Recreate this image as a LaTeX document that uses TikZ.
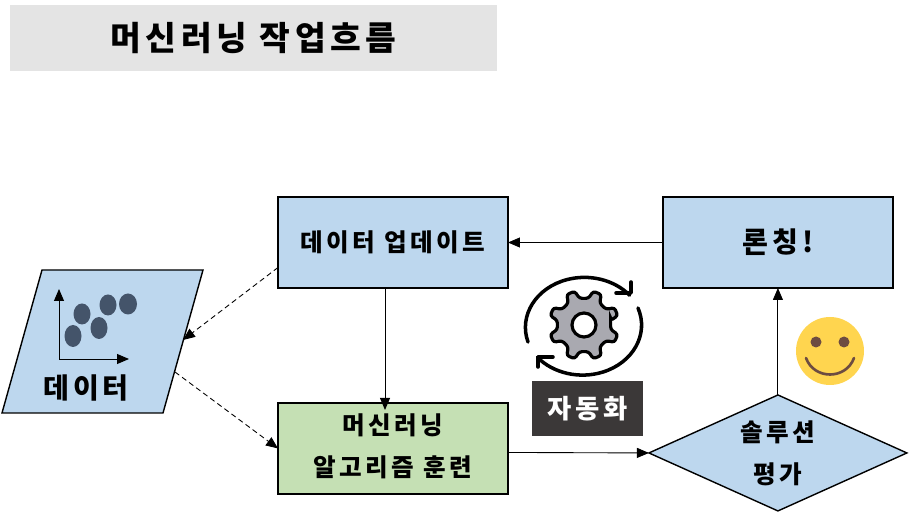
\documentclass[tikz,border=0pt]{standalone}
\usepackage{fontspec}
\usepackage{tikz}
\usetikzlibrary{arrows.meta,positioning,shapes.geometric}
\newfontfamily\krfont{Noto Sans CJK KR}[LetterSpace=14]
\definecolor{boxblue}{HTML}{BDD7EE}
\definecolor{boxgreen}{HTML}{C5E0B4}
\definecolor{titlegray}{HTML}{E4E4E4}
\definecolor{tagdark}{HTML}{3B3838}
\definecolor{dotblue}{HTML}{44546A}
\definecolor{geargray}{HTML}{A9A9B0}
\definecolor{smileface}{HTML}{FFD54F}
\definecolor{smilebrown}{HTML}{6D4C41}

\begin{document}
\begin{tikzpicture}[x=0.02cm, y=0.02cm, every node/.style={font=\krfont\bfseries\fontsize{14}{24}\selectfont}]
\tikzset{stepbox/.style={draw, line width=0.8pt, fill=boxblue, align=center, minimum width=4.6cm, minimum height=1.82cm, inner sep=0pt, outer sep=0pt}}
\tikzset{flow/.style={line width=0.5pt, -{Triangle[length=0.24cm, width=0.2cm]}}}
\tikzset{dashflow/.style={flow, densely dashed}}
\useasboundingbox (0,0) rectangle (910,514);
\fill[white] (0,0) rectangle (910,514);
\node[fill=titlegray, minimum width=9.74cm, minimum height=1.32cm, font=\krfont\bfseries\fontsize{19}{24}\selectfont] (title) at (253.5,476) {머신러닝 작업흐름};
\node[stepbox] (update) at (393,271.5) {데이터 업데이트};
\node[stepbox, right=3.1cm of update, font=\krfont\bfseries\fontsize{16}{24}\selectfont] (launch) {론칭!};
\node[stepbox, below=2.3cm of update, fill=boxgreen] (train) {};
\node[align=center] (traintext) at ([yshift=0.05cm]train.center) {머신러닝\\알고리즘 훈련};
\node[stepbox, diamond, below=2.14cm of launch, minimum width=5.16cm, minimum height=2.32cm] (eval) {};
\node[align=center] (evaltext) at (eval.center) {솔루션\\평가};
% data card
\coordinate (dataa) at (42,244);
\coordinate (datab) at (203,244);
\coordinate (datac) at (163,101);
\coordinate (datad) at (2,101);
\coordinate (datain) at (183,174);
\coordinate (dataout) at (175,142);
\draw[line width=0.8pt, fill=boxblue] (dataa) -- (datab) -- (datac) -- (datad) -- cycle;
\node[font=\krfont\bfseries\fontsize{16}{24}\selectfont] (data) at (86,126) {데이터};
\coordinate (axis) at (59,155);
\coordinate (axisy) at (59,225);
\coordinate (axisx) at (129,155);
\draw[flow] (axis) -- (axisy);
\draw[flow] (axis) -- (axisx);
\fill[dotblue] (73,178) ellipse (8.5 and 11);
\fill[dotblue] (82,200) ellipse (8.5 and 10.5);
\fill[dotblue] (99,186) ellipse (8.5 and 11);
\fill[dotblue] (108,209) ellipse (8.5 and 10.5);
\fill[dotblue] (128,210) ellipse (9 and 10.5);
% connectors
\draw[flow] (launch) -- (update);
\draw[flow] ([xshift=-0.16cm]update.south) -- ([xshift=-0.16cm, yshift=-0.14cm]train.north);
\draw[flow] ([yshift=-0.08cm]train.east) -- (eval.west);
\draw[flow] (eval.north) -- (launch.south);
\draw[dashflow] ([yshift=-0.5cm]update.west) -- (datain);
\draw[dashflow] (dataout) -- (train.west);
% gear
\coordinate (gear) at (584,189);
\draw[line width=1.8pt, fill=geargray, rounded corners=1.5pt, shift={(gear)}] (9.5:27) \foreach \a in {22.5,67.5,...,337.5} { -- (\a-13:27) -- (\a-7:35) -- (\a+7:35) -- (\a+13:27) } -- cycle;
\draw[line width=1.8pt, fill=white] (gear) circle (12);
\draw[line width=2pt, line cap=round] (528,172) arc[start angle=197, end angle=40, x radius=59, y radius=50];
\draw[line width=2pt, line cap=round] (638,206) arc[start angle=20, end angle=-140, x radius=59, y radius=50];
\draw[line width=2pt, line cap=round, line join=round] (631,232) -- (631,221) -- (616,221);
\draw[line width=2pt, line cap=round, line join=round] (553,157) -- (538,157) -- (538,147);
\node[fill=tagdark, text=white, minimum width=2.22cm, minimum height=1.1cm, inner sep=0pt, font=\krfont\bfseries\fontsize{15}{24}\selectfont] (auto) at (587.5,105.5) {자동화};
% smiley
\coordinate (smile) at (830,163);
\fill[smileface] (smile) circle (34);
\fill[smilebrown] (816,172) circle (5.5);
\fill[smilebrown] (844,172) circle (5.5);
\draw[smilebrown, line width=1.5pt, line cap=round] (806,156) .. controls (814,134) and (846,134) .. (854,156);
\end{tikzpicture}
\end{document}
